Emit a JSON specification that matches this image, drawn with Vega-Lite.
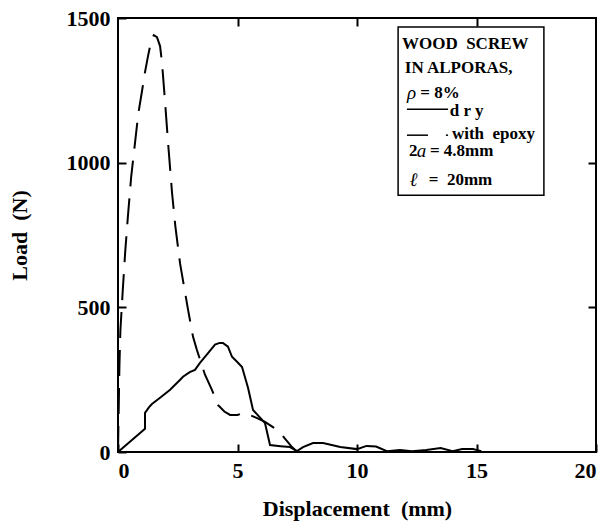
{
  "$schema": "https://vega.github.io/schema/vega-lite/v6.json",
  "width": 478,
  "height": 434,
  "autosize": "none",
  "padding": {"left": 118, "top": 18, "right": 17, "bottom": 70},
  "background": "white",
  "config": {
    "font": "Liberation Serif",
    "view": {"stroke": "black", "strokeWidth": 2},
    "axis": {
      "grid": false,
      "domain": false,
      "ticks": true,
      "tickColor": "black",
      "tickWidth": 2,
      "tickSize": -8,
      "labelFont": "Liberation Serif",
      "labelFontWeight": "bold",
      "labelFontSize": 22,
      "labelColor": "black",
      "titleFont": "Liberation Serif",
      "titleFontWeight": "bold",
      "titleFontSize": 22,
      "titleColor": "black"
    }
  },
  "datasets": {
    "dry": [
      {"d": 0, "load": 0}, {"d": 1.13, "load": 80}, {"d": 1.13, "load": 135}, {"d": 1.3, "load": 155},
      {"d": 1.42, "load": 166}, {"d": 1.8, "load": 190}, {"d": 2.18, "load": 215}, {"d": 2.59, "load": 249},
      {"d": 2.72, "load": 260}, {"d": 3.0, "load": 276}, {"d": 3.22, "load": 284}, {"d": 3.43, "load": 308},
      {"d": 3.75, "load": 340}, {"d": 4.06, "load": 371}, {"d": 4.25, "load": 377}, {"d": 4.39, "load": 377},
      {"d": 4.6, "load": 364}, {"d": 4.77, "load": 329}, {"d": 5.0, "load": 310}, {"d": 5.19, "load": 294},
      {"d": 5.44, "load": 222}, {"d": 5.65, "load": 145}, {"d": 6.03, "load": 111}, {"d": 6.15, "load": 100},
      {"d": 6.36, "load": 24}, {"d": 6.8, "load": 20}, {"d": 7.2, "load": 17}, {"d": 7.49, "load": 3},
      {"d": 7.74, "load": 17}, {"d": 8.16, "load": 31}, {"d": 8.58, "load": 31}, {"d": 9.3, "load": 17},
      {"d": 10.0, "load": 10}, {"d": 10.4, "load": 21}, {"d": 10.8, "load": 19}, {"d": 11.25, "load": 3},
      {"d": 11.8, "load": 7}, {"d": 12.3, "load": 3}, {"d": 12.9, "load": 7}, {"d": 13.5, "load": 14},
      {"d": 14.0, "load": 3}, {"d": 14.4, "load": 10}, {"d": 14.85, "load": 10}, {"d": 15.2, "load": 3}
    ],
    "epoxy": [
      {"d": 0, "load": 0}, {"d": 0.03, "load": 150}, {"d": 0.06, "load": 300}, {"d": 0.1, "load": 420},
      {"d": 0.2, "load": 560}, {"d": 0.3, "load": 690}, {"d": 0.41, "load": 810}, {"d": 0.55, "load": 950},
      {"d": 0.7, "load": 1060}, {"d": 0.85, "load": 1170}, {"d": 1.0, "load": 1245}, {"d": 1.13, "load": 1313},
      {"d": 1.26, "load": 1370}, {"d": 1.4, "load": 1425}, {"d": 1.5, "load": 1441}, {"d": 1.63, "load": 1434},
      {"d": 1.76, "load": 1403}, {"d": 1.84, "load": 1347}, {"d": 1.97, "load": 1209}, {"d": 2.09, "load": 1074},
      {"d": 2.26, "load": 897}, {"d": 2.4, "load": 780}, {"d": 2.6, "load": 650}, {"d": 2.93, "load": 492},
      {"d": 3.14, "load": 398}, {"d": 3.3, "load": 353}, {"d": 3.64, "load": 267}, {"d": 3.93, "load": 215},
      {"d": 4.18, "load": 163}, {"d": 4.45, "load": 140}, {"d": 4.69, "load": 128}, {"d": 5.0, "load": 128},
      {"d": 5.23, "load": 135}, {"d": 5.5, "load": 128}, {"d": 5.8, "load": 118}, {"d": 6.15, "load": 104},
      {"d": 6.5, "load": 85}, {"d": 6.86, "load": 59}, {"d": 7.28, "load": 17}, {"d": 7.5, "load": 0}
    ],
    "box": [{"x": 11.72, "x2": 17.82, "y": 1469, "y2": 887}],
    "keys": [
      {"x": 12.09, "x2": 13.81, "y": 1185},
      {"x": 12.09, "x2": 12.97, "y": 1095},
      {"x": 13.72, "x2": 13.81, "y": 1095}
    ],
    "notes": [
      {"x": 11.88, "y": 1410, "label": "WOOD\u00a0 SCREW"},
      {"x": 12.0, "y": 1327, "label": "IN ALPORAS,"},
      {"x": 12.65, "y": 1240, "label": "= 8%"},
      {"x": 13.88, "y": 1178, "label": "d r y"},
      {"x": 13.97, "y": 1098, "label": "with\u00a0 epoxy"},
      {"x": 12.18, "y": 1039, "label": "2"},
      {"x": 13.05, "y": 1039, "label": "= 4.8mm"},
      {"x": 13.0, "y": 939, "label": "=\u00a0 20mm"}
    ],
    "notesItalic": [
      {"x": 12.09, "y": 1240, "label": "ρ"},
      {"x": 12.5, "y": 1039, "label": "a"},
      {"x": 12.2, "y": 939, "label": "ℓ"}
    ]
  },
  "resolve": {"axis": {"x": "independent", "y": "independent"}},
  "layer": [
    {
      "data": {"name": "dry"},
      "mark": {"type": "line", "color": "black", "strokeWidth": 2, "interpolate": "linear"},
      "encoding": {
        "x": {"field": "d", "type": "quantitative", "scale": {"domain": [0, 20], "nice": false},
              "axis": {"orient": "bottom", "values": [0, 5, 10, 15, 20], "format": "d", "title": "Displacement\u00a0 (mm)", "labelPadding": 16, "titlePadding": 17}},
        "y": {"field": "load", "type": "quantitative", "scale": {"domain": [0, 1500], "nice": false},
              "axis": {"orient": "left", "values": [0, 500, 1000, 1500], "format": "d", "title": "Load\u00a0 (N)", "labelPadding": 16, "titlePadding": 35}}
      }
    },
    {
      "data": {"name": "epoxy"},
      "mark": {"type": "line", "color": "black", "strokeWidth": 2, "strokeDash": [26, 12]},
      "encoding": {
        "x": {"field": "d", "type": "quantitative",
              "axis": {"orient": "top", "values": [5, 10, 15], "labels": false, "title": null}},
        "y": {"field": "load", "type": "quantitative",
              "axis": {"orient": "right", "values": [500, 1000], "labels": false, "title": null}}
      }
    },
    {
      "data": {"name": "box"},
      "mark": {"type": "rect", "fill": "white", "stroke": "black", "strokeWidth": 1.5},
      "encoding": {
        "x": {"field": "x", "type": "quantitative", "axis": null},
        "x2": {"field": "x2"},
        "y": {"field": "y", "type": "quantitative", "axis": null},
        "y2": {"field": "y2"}
      }
    },
    {
      "data": {"name": "keys"},
      "mark": {"type": "rule", "color": "black", "strokeWidth": 1.5},
      "encoding": {
        "x": {"field": "x", "type": "quantitative", "axis": null},
        "x2": {"field": "x2"},
        "y": {"field": "y", "type": "quantitative", "axis": null}
      }
    },
    {
      "data": {"name": "notes"},
      "mark": {"type": "text", "align": "left", "baseline": "middle", "fontSize": 17, "fontWeight": "bold", "font": "Liberation Serif", "color": "black"},
      "encoding": {
        "x": {"field": "x", "type": "quantitative", "axis": null},
        "y": {"field": "y", "type": "quantitative", "axis": null},
        "text": {"field": "label"}
      }
    },
    {
      "data": {"name": "notesItalic"},
      "mark": {"type": "text", "align": "left", "baseline": "middle", "fontSize": 19, "fontStyle": "italic", "font": "Liberation Serif", "color": "black"},
      "encoding": {
        "x": {"field": "x", "type": "quantitative", "axis": null},
        "y": {"field": "y", "type": "quantitative", "axis": null},
        "text": {"field": "label"}
      }
    }
  ]
}
